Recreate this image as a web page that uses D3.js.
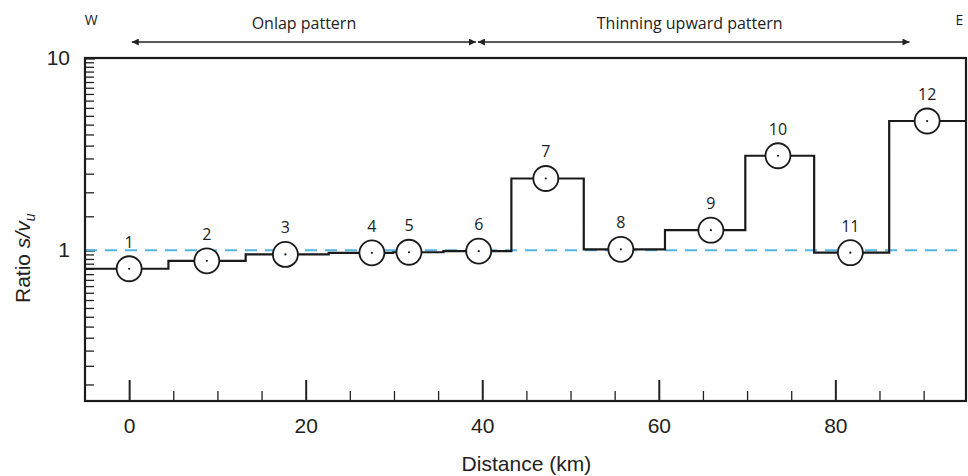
<!DOCTYPE html>
<html>
<head>
<meta charset="utf-8">
<script src="https://cdn.jsdelivr.net/npm/d3@7"></script>
<style>
  body { margin: 0; background: #fff; }
  .axis text { font-family: "Liberation Sans", Arial, sans-serif; font-size: 21px; fill: #222; }
  .axis line { stroke: #222; }
  .note { font-family: "Open Sans", sans-serif; fill: #222; }
  .title { font-family: "Liberation Sans", Arial, sans-serif; font-size: 21px; fill: #222; }
</style>
</head>
<body>
<div id="chart"></div>
<script>
// step edges along the profile (km) and the ratio held on each interval
var stepEdges = [-5, 4.45, 13.2, 22.6, 29.9, 35.6, 43.3, 51.5, 60.7, 69.8, 77.6, 86.1, 94.8];
var ratios = [0.80, 0.88, 0.95, 0.968, 0.975, 0.988, 2.36, 1.01, 1.27, 3.10, 0.97, 4.70];

// measurement sites
var siteKm = [0, 8.8, 17.7, 27.5, 31.7, 39.6, 47.2, 55.7, 65.9, 73.5, 81.7, 90.4];
var siteLabels = ["1", "2", "3", "4", "5", "6", "7", "8", "9", "10", "11", "12"];

// patterns shown with arrows on top
var patternNames = ["Onlap pattern", "Thinning upward pattern"];
var patternFrom = [0.3, 39.4];
var patternTo = [39.4, 88.4];
var patternLabelKm = [19.8, 63.5];

// ticks
var xMajor = [0, 20, 40, 60, 80];
var xMinor = [5, 10, 15, 25, 30, 35, 45, 50, 55, 65, 70, 75, 85, 90];
var yMajor = [1, 10];
var yMinor = d3.range(0.2, 0.999, 0.05).concat(d3.range(1.5, 10, 0.5));

var margin = {top: 58, right: 2, bottom: 75, left: 85},
    width = 968 - margin.left - margin.right,
    height = 476 - margin.top - margin.bottom;

var svg = d3.select("#chart")
    .append("svg")
    .attr("width", 968)
    .attr("height", 476)
  .append("g")
    .attr("transform", "translate(" + margin.left + "," + margin.top + ")");

var x = d3.scaleLinear()
    .domain([-5, 94.8])
    .range([0, width]);

var y = d3.scaleLog()
    .domain([0.164, 10])
    .range([height, 0]);

// arrow head
svg.append("defs").append("marker")
    .attr("id", "head")
    .attr("viewBox", "0 0 10 10")
    .attr("refX", 10)
    .attr("refY", 5)
    .attr("markerWidth", 9)
    .attr("markerHeight", 7)
    .attr("markerUnits", "userSpaceOnUse")
    .attr("orient", "auto-start-reverse")
  .append("path")
    .attr("d", "M0,0L10,5L0,10Z")
    .attr("fill", "#222");

// x minor ticks
svg.append("g")
    .attr("class", "axis")
    .attr("transform", "translate(0," + height + ")")
    .call(d3.axisBottom(x).tickValues(xMinor).tickSize(-10).tickFormat(""))
    .call(g => g.select(".domain").remove())
    .selectAll("line").attr("stroke-width", 1.3);

// x major ticks
svg.append("g")
    .attr("class", "axis")
    .attr("transform", "translate(0," + height + ")")
    .call(d3.axisBottom(x).tickValues(xMajor).tickSize(-21).tickPadding(17).tickFormat(d3.format("d")))
    .call(g => g.select(".domain").remove())
    .selectAll("line").attr("stroke-width", 2);

// y minor ticks
svg.append("g")
    .attr("class", "axis")
    .call(d3.axisLeft(y).tickValues(yMinor).tickSize(-9).tickFormat(""))
    .call(g => g.select(".domain").remove())
    .selectAll("line").attr("stroke-width", 1.3);

// y major ticks
svg.append("g")
    .attr("class", "axis")
    .call(d3.axisLeft(y).tickValues(yMajor).tickSize(-10).tickPadding(15).tickFormat(d3.format("d")))
    .call(g => g.select(".domain").remove())
    .selectAll("line").attr("stroke-width", 2.2);

// reference line at ratio 1
svg.append("line")
    .attr("x1", 0)
    .attr("x2", width)
    .attr("y1", y(1))
    .attr("y2", y(1))
    .attr("stroke", "#52b5e3")
    .attr("stroke-width", 2)
    .attr("stroke-dasharray", "12,8");

// step line
var stepPoints = stepEdges.map(function(e, i) {
  return [e, ratios[Math.min(i, ratios.length - 1)]];
});

var line = d3.line()
    .x(function(d) { return x(d[0]); })
    .y(function(d) { return y(d[1]); })
    .curve(d3.curveStepAfter);

svg.append("path")
    .datum(stepPoints)
    .attr("fill", "none")
    .attr("stroke", "#1a1a1a")
    .attr("stroke-width", 2.2)
    .attr("d", line);

// frame
svg.append("rect")
    .attr("width", width)
    .attr("height", height)
    .attr("fill", "none")
    .attr("stroke", "#1a1a1a")
    .attr("stroke-width", 2.2);

// sites
var site = svg.selectAll(".site")
    .data(siteKm)
  .enter().append("g")
    .attr("class", "site")
    .attr("transform", function(d, i) { return "translate(" + x(d) + "," + y(ratios[i]) + ")"; });

site.append("circle")
    .attr("r", 12.5)
    .attr("fill", "#fff")
    .attr("stroke", "#1a1a1a")
    .attr("stroke-width", 1.8);

site.append("circle")
    .attr("r", 1.1)
    .attr("fill", "#1a1a1a");

site.append("text")
    .attr("class", "note")
    .attr("y", -21)
    .style("text-anchor", "middle")
    .style("font-size", "16px")
    .text(function(d, i) { return siteLabels[i]; });

// pattern arrows
patternNames.forEach(function(name, i) {
  svg.append("line")
      .attr("x1", x(patternFrom[i]) + (i > 0 ? 1 : 0))
      .attr("x2", x(patternTo[i]) - (i === 0 ? 1 : 0))
      .attr("y1", -16)
      .attr("y2", -16)
      .attr("stroke", "#222")
      .attr("stroke-width", 1.6)
      .attr("marker-start", "url(#head)")
      .attr("marker-end", "url(#head)");

  svg.append("text")
      .attr("class", "note")
      .attr("x", x(patternLabelKm[i]))
      .attr("y", -29)
      .style("text-anchor", "middle")
      .style("font-size", "16px")
      .text(name);
});

// W / E
svg.append("text")
    .attr("class", "note")
    .attr("x", x(-4.3))
    .attr("y", -33)
    .style("text-anchor", "middle")
    .style("font-size", "14px")
    .text("W");

svg.append("text")
    .attr("class", "note")
    .attr("x", x(93.6))
    .attr("y", -33)
    .style("font-size", "14px")
    .text("E");

// axis titles
svg.append("text")
    .attr("class", "title")
    .attr("x", x(45))
    .attr("y", height + 70)
    .style("text-anchor", "middle")
    .text("Distance (km)");

var yt = svg.append("text")
    .attr("class", "title")
    .attr("transform", "translate(" + (30 - margin.left) + "," + (303 - margin.top) + ") rotate(-90)");
yt.append("tspan").text("Ratio ");
yt.append("tspan").style("font-style", "italic").text("s/v");
yt.append("tspan")
    .style("font-style", "italic")
    .style("font-size", "14px")
    .attr("dy", 5)
    .text("u");
</script>
</body>
</html>
